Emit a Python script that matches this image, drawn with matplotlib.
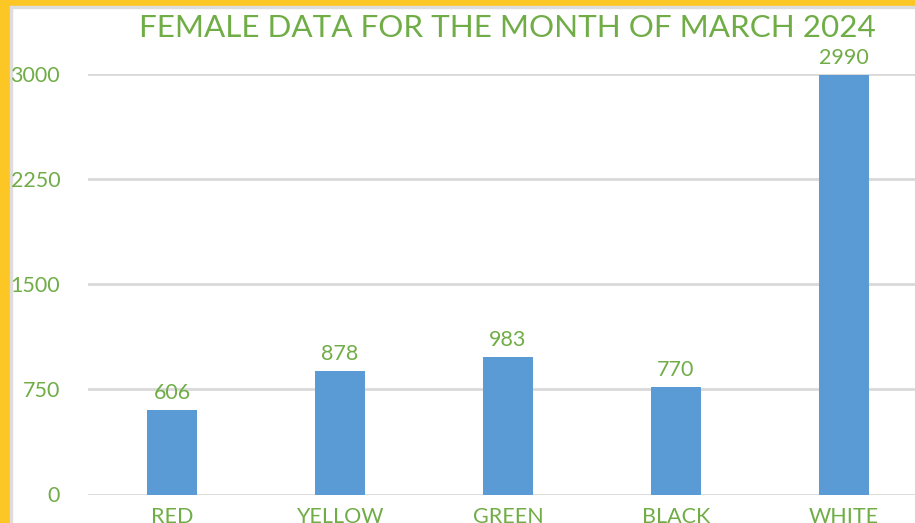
import numpy as np
import matplotlib.pyplot as plt
from matplotlib.patches import Rectangle

categories = ['RED', 'YELLOW', 'GREEN', 'BLACK', 'WHITE']
values = [606, 878, 983, 770, 2990]
yticks = [0, 750, 1500, 2250, 3000]
title = 'FEMALE DATA FOR THE MONTH OF MARCH 2024'

green = '#70AD47'
blue = '#5B9BD5'
grid_c = '#D9D9D9'

plt.rcParams['font.family'] = ['Lato', 'DejaVu Sans']

W, H = 915, 523
fig = plt.figure(figsize=(W / 100, H / 100), dpi=100)
fig.patch.set_facecolor('white')

# yellow frame on the left and top, with a thin grey inner edge
frame = [((0, 0), 10 / W, 1, '#FCC624'),
         ((0, 1 - 6 / H), 1, 6 / H, '#FCC624'),
         ((10 / W, 0), 2 / W, 1 - 6 / H, '#DDDDDD'),
         ((10 / W, 1 - 8 / H), 1, 2 / H, '#DDDDDD')]
for xy, w, h, c in frame:
    fig.patches.append(Rectangle(xy, w, h, transform=fig.transFigure,
                                 color=c, zorder=-5))

left, right = 88 / W, 928 / W
bottom, top = (H - 494.5) / H, (H - 74) / H
ax = fig.add_axes([left, bottom, right - left, top - bottom])
ax.patch.set_alpha(0.0)
ax.set_zorder(2)

x = np.arange(len(categories))
ax.bar(x, values, width=0.3, color=blue, zorder=2)
for xi, v in zip(x, values):
    ax.annotate(str(v), (xi, v), xytext=(0, 5), textcoords='offset points',
                ha='center', va='bottom', color=green, fontsize=15.5,
                annotation_clip=False)

ax.set_xlim(-0.5, len(categories) - 0.5)
ax.set_ylim(0, 3000)
ax.set_yticks(yticks)
ax.set_yticklabels([str(t) for t in yticks])
ax.set_xticks(x)
ax.set_xticklabels(categories)
ax.tick_params(axis='y', length=0, pad=20, labelcolor=green, labelsize=15.5)
ax.tick_params(axis='x', length=0, pad=9, labelcolor=green, labelsize=15.5)
ax.grid(True, axis='y', color=grid_c, linewidth=2, zorder=0)
for s in ax.spines.values():
    s.set_visible(False)

fig.text(507.5 / W, 1 - 37 / H, title, ha='center', va='baseline',
         color=green, fontsize=22.6, zorder=3)

fig.savefig('out.png', dpi=100)
